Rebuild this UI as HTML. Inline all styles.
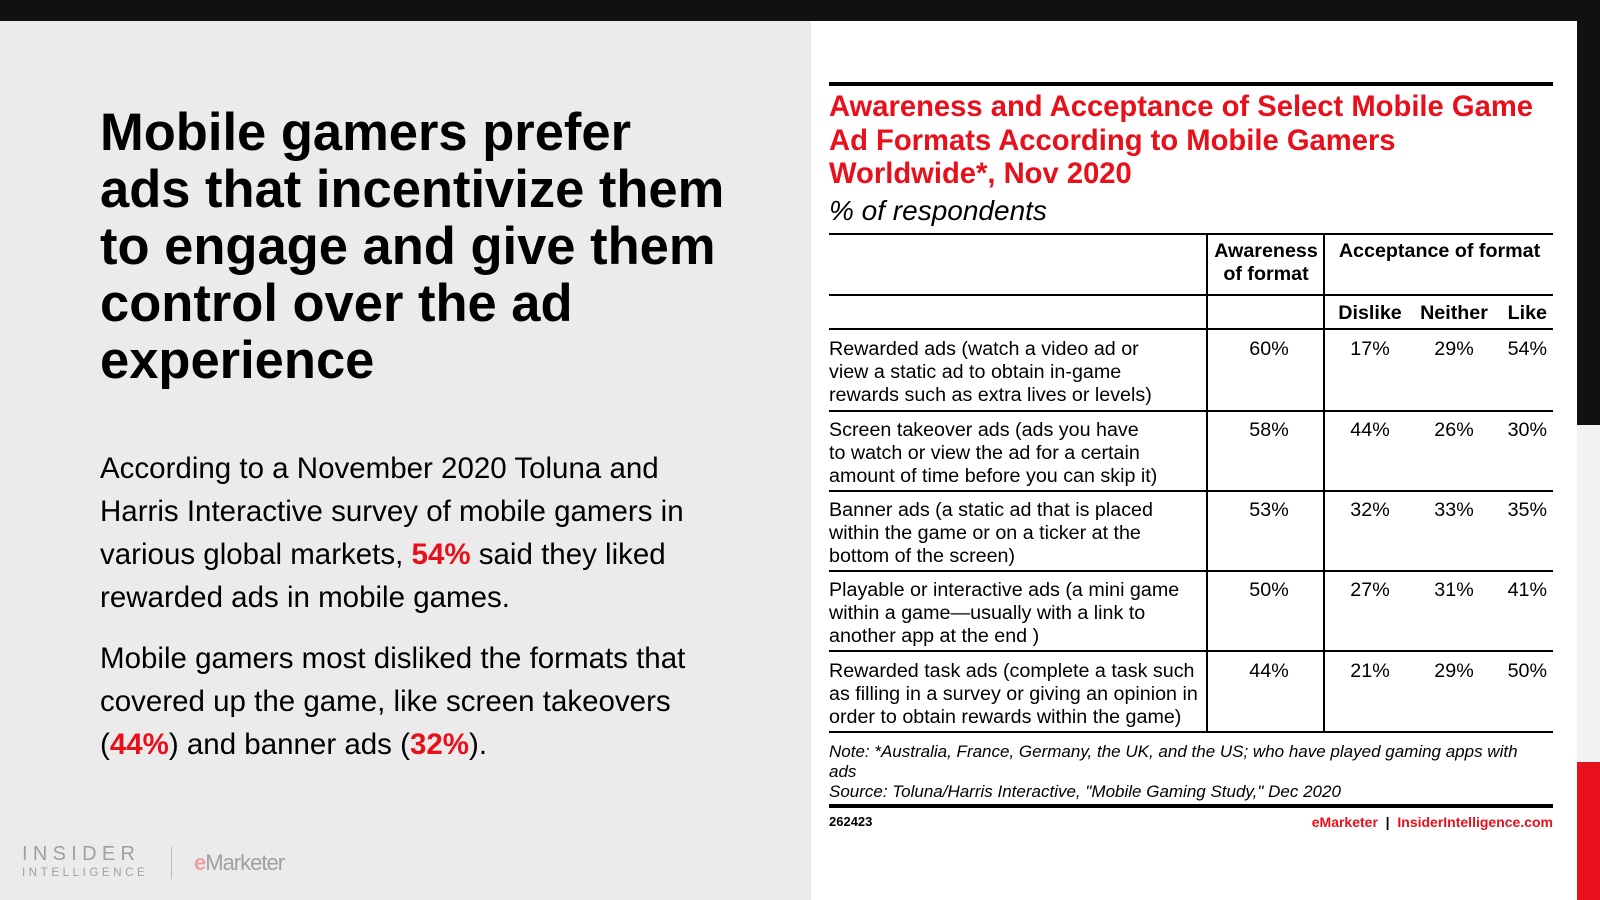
<!DOCTYPE html>
<html><head><meta charset="utf-8"><style>
*{margin:0;padding:0;box-sizing:border-box}
body{width:1600px;height:900px;position:relative;overflow:hidden;background:#ebebeb;font-family:"Liberation Sans",Arial,sans-serif;color:#000}
.a{position:absolute;white-space:nowrap}
.red{color:#e8101b}
.h{position:absolute;left:829px;width:724px;height:2px;background:#000}
.v{position:absolute;width:2px;background:#000}
.t{font-size:19.7px;line-height:23px}
.c{text-align:center;width:80px}
</style></head><body>
<div class="a" style="left:0;top:0;width:1600px;height:21px;background:#111"></div>
<div class="a" style="left:811px;top:21px;width:766px;height:879px;background:#fff"></div>
<div class="a" style="left:1577px;top:0;width:23px;height:425px;background:#111"></div>
<div class="a" style="left:1577px;top:425px;width:23px;height:337px;background:#f2f2f2"></div>
<div class="a" style="left:1577px;top:762px;width:23px;height:138px;background:#e8101b"></div>

<div class="a" style="left:100px;top:104px;font-size:52.5px;font-weight:bold;line-height:57px">Mobile gamers prefer<br>ads that incentivize them<br>to engage and give them<br>control over the ad<br>experience</div>
<div class="a" style="left:100px;top:447px;font-size:29.5px;line-height:43px">According to a November 2020 Toluna and<br>Harris Interactive survey of mobile gamers in<br>various global markets, <b class="red">54%</b> said they liked<br>rewarded ads in mobile games.</div>
<div class="a" style="left:100px;top:637px;font-size:29.5px;line-height:43px">Mobile gamers most disliked the formats that<br>covered up the game, like screen takeovers<br>(<b class="red">44%</b>) and banner ads (<b class="red">32%</b>).</div>

<div class="a" style="left:22px;top:843px;font-size:20px;letter-spacing:5.3px;color:#a0a0a0">INSIDER</div>
<div class="a" style="left:22px;top:867px;font-size:11.5px;letter-spacing:3.6px;color:#a0a0a0">INTELLIGENCE</div>
<div class="a" style="left:171px;top:847px;width:1px;height:32px;background:#bbb"></div>
<div class="a" style="left:194px;top:850px;font-size:22px;letter-spacing:-1px;color:#a0a0a0"><span style="color:#eea0a4;font-weight:bold">e</span>Marketer</div>

<div class="h" style="top:82px;height:4px"></div>
<div class="a red" style="left:829px;top:91px;font-size:29.2px;font-weight:bold;line-height:33.5px">Awareness and Acceptance of Select Mobile Game<br>Ad Formats According to Mobile Gamers<br>Worldwide*, Nov 2020</div>
<div class="a" style="left:829px;top:195px;font-size:28px;font-style:italic">% of respondents</div>

<div class="h" style="top:233px"></div>
<div class="h" style="top:294px"></div>
<div class="h" style="top:328px"></div>
<div class="h" style="top:410px"></div>
<div class="h" style="top:490px"></div>
<div class="h" style="top:570px"></div>
<div class="h" style="top:650px"></div>
<div class="h" style="top:731px"></div>
<div class="h" style="top:804px;height:4px"></div>
<div class="v" style="left:1206px;top:233px;height:499px"></div>
<div class="v" style="left:1323px;top:233px;height:499px"></div>

<div class="a t" style="left:1209px;top:240px;width:114px;text-align:center;font-weight:bold">Awareness<br>of format</div>
<div class="a t" style="left:1326px;top:240px;width:227px;text-align:center;font-weight:bold">Acceptance of format</div>
<div class="a t" style="left:1330px;top:302px;width:80px;text-align:center;font-weight:bold">Dislike</div>
<div class="a t" style="left:1414px;top:302px;width:80px;text-align:center;font-weight:bold">Neither</div>
<div class="a t" style="left:1491px;top:302px;width:56px;text-align:right;font-weight:bold">Like</div>

<div class="a t" style="left:829px;top:338px">Rewarded ads (watch a video ad or<br>view a static ad to obtain in-game<br>rewards such as extra lives or levels)</div>
<div class="a t" style="left:829px;top:419px">Screen takeover ads (ads you have<br>to watch or view the ad for a certain<br>amount of time before you can skip it)</div>
<div class="a t" style="left:829px;top:499px">Banner ads (a static ad that is placed<br>within the game or on a ticker at the<br>bottom of the screen)</div>
<div class="a t" style="left:829px;top:579px">Playable or interactive ads (a mini game<br>within a game—usually with a link to<br>another app at the end )</div>
<div class="a t" style="left:829px;top:660px">Rewarded task ads (complete a task such<br>as filling in a survey or giving an opinion in<br>order to obtain rewards within the game)</div>

<div class="a t c" style="left:1229px;top:338px">60%</div><div class="a t c" style="left:1330px;top:338px">17%</div><div class="a t c" style="left:1414px;top:338px">29%</div><div class="a t" style="left:1491px;top:338px;width:56px;text-align:right">54%</div>
<div class="a t c" style="left:1229px;top:419px">58%</div><div class="a t c" style="left:1330px;top:419px">44%</div><div class="a t c" style="left:1414px;top:419px">26%</div><div class="a t" style="left:1491px;top:419px;width:56px;text-align:right">30%</div>
<div class="a t c" style="left:1229px;top:499px">53%</div><div class="a t c" style="left:1330px;top:499px">32%</div><div class="a t c" style="left:1414px;top:499px">33%</div><div class="a t" style="left:1491px;top:499px;width:56px;text-align:right">35%</div>
<div class="a t c" style="left:1229px;top:579px">50%</div><div class="a t c" style="left:1330px;top:579px">27%</div><div class="a t c" style="left:1414px;top:579px">31%</div><div class="a t" style="left:1491px;top:579px;width:56px;text-align:right">41%</div>
<div class="a t c" style="left:1229px;top:660px">44%</div><div class="a t c" style="left:1330px;top:660px">21%</div><div class="a t c" style="left:1414px;top:660px">29%</div><div class="a t" style="left:1491px;top:660px;width:56px;text-align:right">50%</div>

<div class="a" style="left:829px;top:742px;font-size:17px;font-style:italic;line-height:20px">Note: *Australia, France, Germany, the UK, and the US; who have played gaming apps with<br>ads<br>Source: Toluna/Harris Interactive, "Mobile Gaming Study," Dec 2020</div>
<div class="a" style="left:829px;top:814px;font-size:13px;font-weight:bold">262423</div>
<div class="a" style="left:1253px;top:814px;width:300px;text-align:right;font-size:14px;font-weight:bold"><span class="red">eMarketer</span> &nbsp;|&nbsp; <span class="red">InsiderIntelligence.com</span></div>
</body></html>
